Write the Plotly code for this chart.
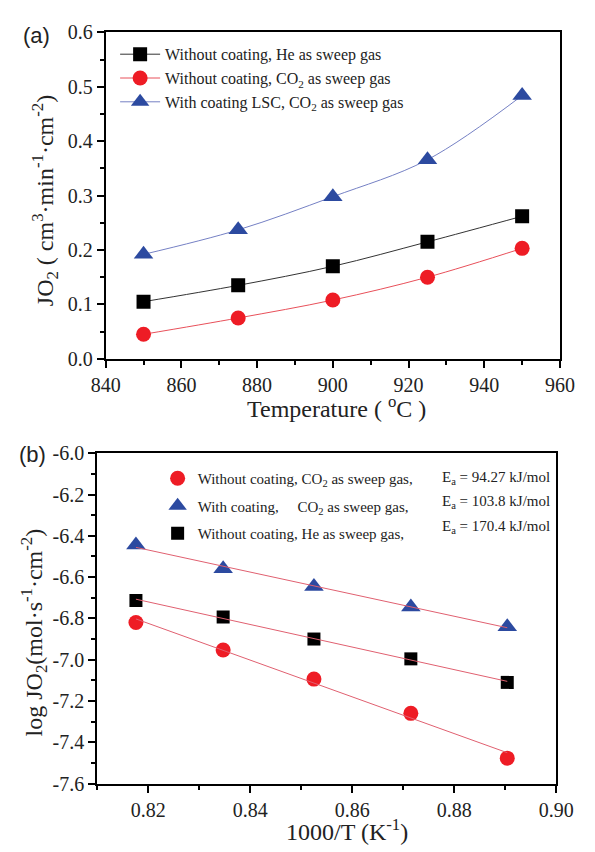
import plotly.graph_objects as go
import numpy as np

# ---------- data (a) ----------
temperature = [850, 875, 900, 925, 950]
flux_he = [0.105, 0.135, 0.170, 0.215, 0.262]
flux_co2 = [0.045, 0.075, 0.108, 0.150, 0.203]
flux_lsc = [0.192, 0.237, 0.298, 0.366, 0.484]
names_a = ["Without coating, He as sweep gas",
           "Without coating, CO<sub>2</sub> as sweep gas",
           "With coating LSC, CO<sub>2</sub> as sweep gas"]
xticks_a = [840, 860, 880, 900, 920, 940, 960]
xtick_text_a = ["840", "860", "880", "900", "920", "940", "960"]
yticks_a = [0.0, 0.1, 0.2, 0.3, 0.4, 0.5, 0.6]
ytick_text_a = ["0.0", "0.1", "0.2", "0.3", "0.4", "0.5", "0.6"]

# ---------- data (b) ----------
inv_T = [0.8176, 0.8347, 0.8525, 0.8715, 0.8904]
logj_co2 = [-6.82, -6.953, -7.094, -7.26, -7.477]
logj_lsc = [-6.444, -6.56, -6.646, -6.745, -6.84]
logj_he = [-6.713, -6.793, -6.90, -6.996, -7.11]
names_b = ["Without coating, CO<sub>2</sub> as sweep gas,",
           "With coating,     CO<sub>2</sub> as sweep gas,",
           "Without coating, He as sweep gas,"]
ea_labels = ["E<sub>a</sub> = 94.27 kJ/mol",
             "E<sub>a</sub> = 103.8 kJ/mol",
             "E<sub>a</sub> = 170.4 kJ/mol"]
xticks_b = [0.82, 0.84, 0.86, 0.88, 0.90]
xtick_text_b = ["0.82", "0.84", "0.86", "0.88", "0.90"]
yticks_b = [-6.0, -6.2, -6.4, -6.6, -6.8, -7.0, -7.2, -7.4, -7.6]
ytick_text_b = ["-6.0", "-6.2", "-6.4", "-6.6", "-6.8", "-7.0", "-7.2", "-7.4", "-7.6"]

W, H = 595, 852
BLACK = "#000000"
RED = "#ee1c25"
BLUE = "#2c4aa0"
SERIF = "Liberation Serif"
SANS = "Liberation Sans"
TXT = "#222222"

def px(x):
    return x / W

def py(y):
    return 1 - y / H

fig = go.Figure()

# panel (a)
for ys, nm, col, lcol, sym, sz in [
    (flux_he, names_a[0], BLACK, "#333333", "square", 14),
    (flux_co2, names_a[1], RED, "#e8505a", "circle", 15),
    (flux_lsc, names_a[2], BLUE, "#7580c4", "triangle-up", 17),
]:
    fig.add_trace(go.Scatter(
        x=temperature, y=ys, name=nm, mode="lines+markers",
        line=dict(color=lcol, width=1, shape="spline"),
        marker=dict(color=col, symbol=sym, size=sz, line=dict(width=0)),
        xaxis="x", yaxis="y", legend="legend", legendgroup=nm,
    ))

# panel (b) markers
for ys, nm, col, sym, sz in [
    (logj_co2, names_b[0], RED, "circle", 15),
    (logj_lsc, names_b[1], BLUE, "triangle-up", 17),
    (logj_he, names_b[2], BLACK, "square", 13),
]:
    fig.add_trace(go.Scatter(
        x=inv_T, y=ys, name=nm, mode="markers",
        marker=dict(color=col, symbol=sym, size=sz, line=dict(width=0)),
        xaxis="x2", yaxis="y2", legend="legend2", legendgroup="b" + nm,
    ))

# panel (b) linear fits
xs = np.array(inv_T)
for ys in [logj_co2, logj_lsc, logj_he]:
    k, b = np.polyfit(xs, np.array(ys), 1)
    xf = np.array([xs.min(), xs.max()])
    fig.add_trace(go.Scatter(
        x=xf, y=k * xf + b, mode="lines", showlegend=False,
        line=dict(color="#e06070", width=1),
        xaxis="x2", yaxis="y2", hoverinfo="skip",
    ))

def ax(**kw):
    d = dict(
        showline=True, linecolor="black", linewidth=2, mirror=True,
        ticks="outside", ticklen=7, tickwidth=2, tickcolor="black",
        showgrid=False, zeroline=False, tickmode="array",
        tickfont=dict(family=SERIF, size=20, color=TXT),
    )
    d.update(kw)
    return d

def minor(dt):
    return dict(dtick=dt, ticks="outside", ticklen=4, tickwidth=2, tickcolor="black")

fig.update_layout(
    width=W, height=H,
    margin=dict(l=0, r=0, t=0, b=0),
    paper_bgcolor="white", plot_bgcolor="white",
    font=dict(family=SERIF, size=20, color=TXT),
    xaxis=ax(domain=[px(96), px(577)], range=[840, 960], anchor="y",
             tickvals=xticks_a, ticktext=xtick_text_a, minor=minor(10)),
    yaxis=ax(domain=[py(357), py(22)], range=[0, 0.6], anchor="x",
             tickvals=yticks_a, ticktext=ytick_text_a, minor=minor(0.05)),
    xaxis2=ax(domain=[px(87), px(573)], range=[0.81, 0.90], anchor="y2",
              tickvals=xticks_b, ticktext=xtick_text_b, minor=minor(0.01)),
    yaxis2=ax(domain=[py(793), py(454)], range=[-7.6, -6.0], anchor="x2",
              tickvals=yticks_b, ticktext=ytick_text_b, minor=minor(0.1)),
    legend=dict(x=px(106), y=py(27), xanchor="left", yanchor="top",
                bgcolor="rgba(0,0,0,0)", itemwidth=40,
                font=dict(family=SERIF, size=16, color=TXT),
                traceorder="grouped", tracegroupgap=0),
    legend2=dict(x=px(151), y=py(463), xanchor="left", yanchor="top",
                 bgcolor="rgba(0,0,0,0)", itemwidth=30,
                 font=dict(family=SERIF, size=15, color=TXT),
                 traceorder="grouped", tracegroupgap=5),
    showlegend=True,
)

annotations = [
    dict(text="(a)", x=px(23), y=py(25), font=dict(family=SANS, size=22, color=TXT)),
    dict(text="(b)", x=px(19), y=py(455), font=dict(family=SANS, size=22, color=TXT)),
    dict(text="Temperature ( <sup>o</sup>C )", x=px(340), y=py(406),
         font=dict(family=SERIF, size=24, color=TXT)),
    dict(text="JO<sub>2</sub> ( cm<sup>3</sup>·min<sup>-1</sup>·cm<sup>-2</sup>)",
         x=px(32), y=py(195), textangle=-90,
         font=dict(family=SERIF, size=24, color=TXT)),
    dict(text="1000/T (K<sup>-1</sup>)", x=px(352), y=py(841),
         font=dict(family=SERIF, size=24, color=TXT)),
    dict(text="log JO<sub>2</sub>(mol·s<sup>-1</sup>·cm<sup>-2</sup>)",
         x=px(20), y=py(638), textangle=-90,
         font=dict(family=SERIF, size=24, color=TXT)),
]
for lab, yy in zip(ea_labels, [479, 504, 530]):
    annotations.append(dict(text=lab, x=px(450), y=py(yy), xanchor="left",
                            font=dict(family=SERIF, size=15, color=TXT)))
for a in annotations:
    a.setdefault("xref", "paper")
    a.setdefault("yref", "paper")
    a.setdefault("showarrow", False)
    a.setdefault("xanchor", "center")
    a.setdefault("yanchor", "middle")
fig.update_layout(annotations=annotations)

fig.write_html("out.html")
